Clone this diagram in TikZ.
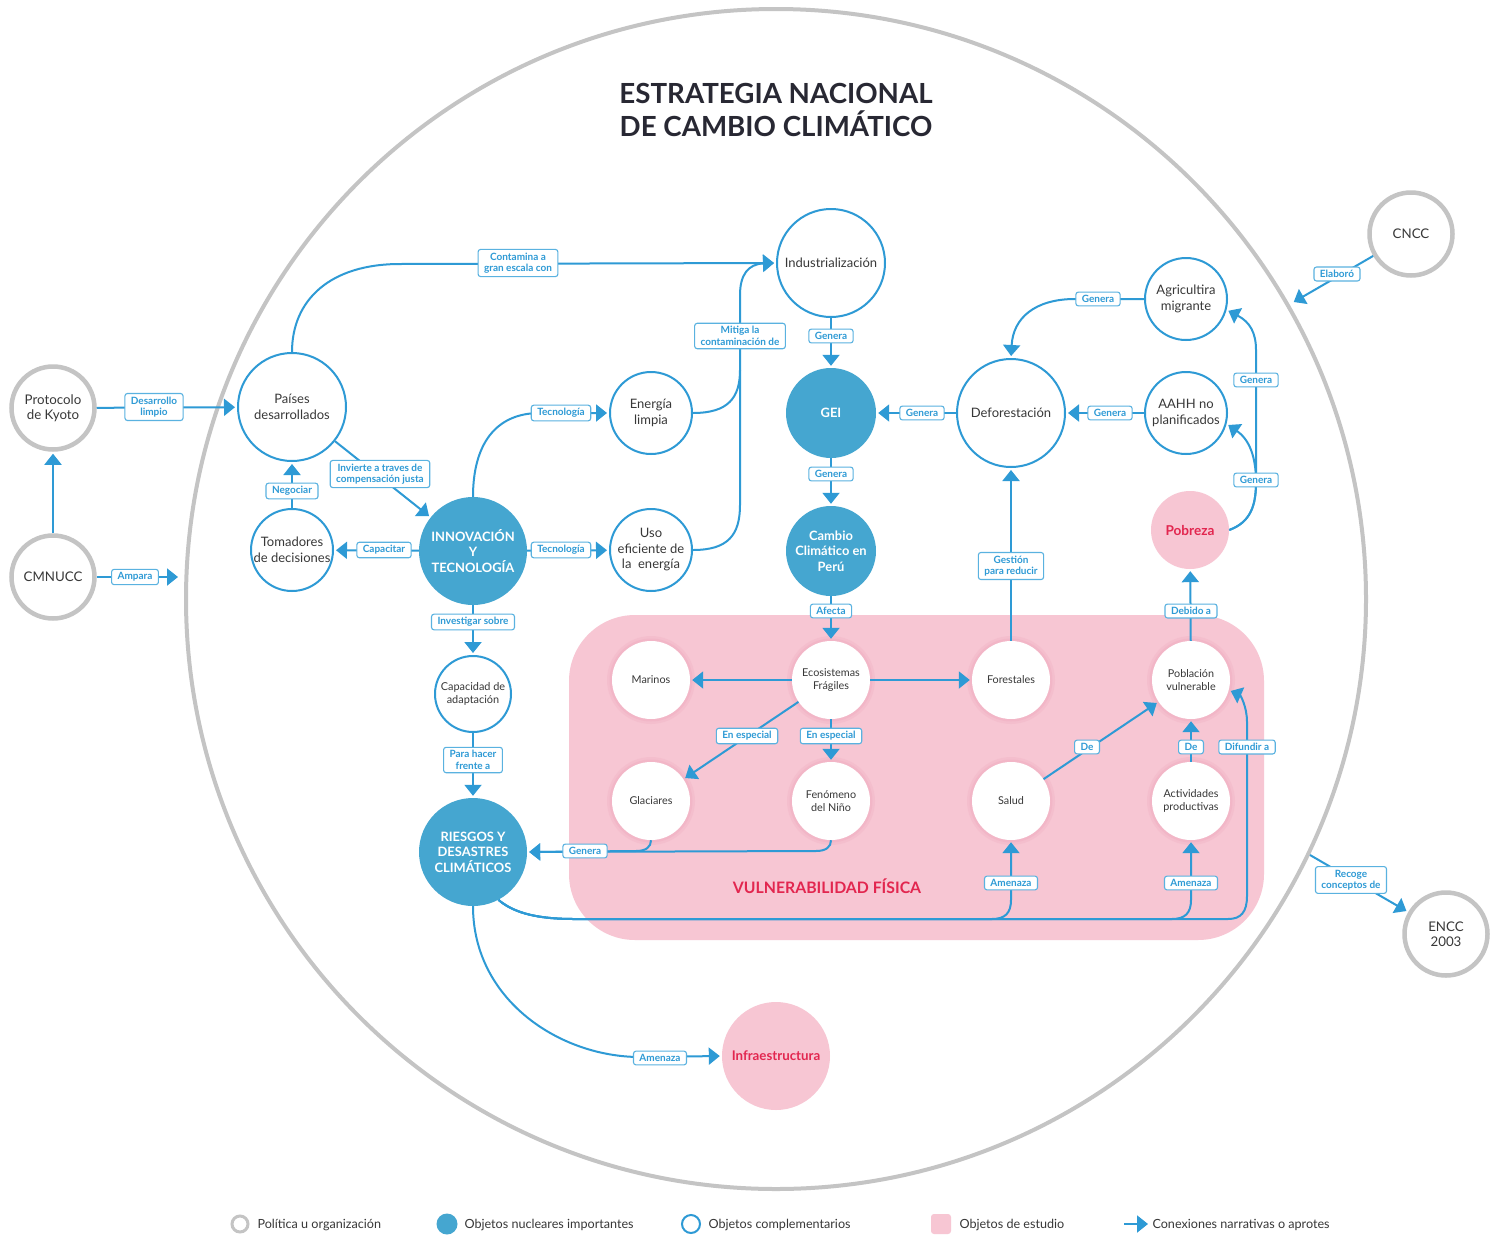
\documentclass[tikz,border=0pt]{standalone}
\usepackage{fontspec}
\setmainfont{Lato}
\usetikzlibrary{arrows.meta}
\definecolor{lineblue}{HTML}{2E9AD5}
\definecolor{tagline}{HTML}{5AB2E0}
\definecolor{coreblue}{HTML}{45A6D0}
\definecolor{ringgray}{HTML}{C4C4C4}
\definecolor{pinkfill}{HTML}{F7C6D3}
\definecolor{halopink}{HTML}{EFA9BD}
\definecolor{alert}{HTML}{E2264F}
\definecolor{titleink}{HTML}{282833}
\definecolor{ink}{HTML}{383838}
\begin{document}
\begin{tikzpicture}[x=1pt,y=-1pt,
  policy/.style={circle, draw=ringgray, line width=4.5pt, fill=white, minimum size=83pt,
    inner sep=0pt, align=center, text=ink, font=\fontsize{13.3}{15.5}\selectfont},
  core/.style={circle, fill=coreblue, text=white, inner sep=0pt, align=center,
    font=\bfseries\fontsize{12.9}{15.5}\selectfont},
  comp/.style={circle, draw=lineblue, line width=2pt, fill=white, inner sep=0pt,
    align=center, text=ink, font=\fontsize{13}{15.5}\selectfont},
  study/.style={circle, fill=pinkfill, text=alert, inner sep=0pt,
    font=\bfseries\fontsize{13.6}{15}\selectfont},
  vuln/.style={circle, fill=white, minimum size=78pt, inner sep=0pt, align=center,
    text=ink, font=\fontsize{10.8}{13}\selectfont},
  tag/.style={draw=tagline, line width=1.1pt, fill=white, rounded corners=2.5pt,
    text=lineblue, font=\bfseries\fontsize{10}{11.5}\selectfont,
    inner xsep=6pt, inner ysep=3.2pt, align=center},
  link/.style={draw=lineblue, line width=2pt, -{Triangle[length=11pt,width=17pt]}, shorten >=2pt},
  wire/.style={draw=lineblue, line width=2pt},
  legendtext/.style={anchor=west, text=ink, font=\fontsize{12.6}{14}\selectfont}
]
\useasboundingbox (0,0) rectangle (1502,1237);
\fill[white] (0,0) rectangle (1502,1237);

% outer boundary of the national strategy
\draw[ringgray, line width=4pt] (776,599) circle (590pt);

% study area: physical vulnerability
\fill[pinkfill, rounded corners=66pt] (569,615) rectangle (1264,940);
\node[text=alert, font=\bfseries\fontsize{15.8}{18}\selectfont] (vtitle) at (827,886) {VULNERABILIDAD FÍSICA};

% soft halos around the study circles
\foreach \cx/\cy in {651/680, 831/680, 1011/680, 1191/680, 651/801, 831/801, 1011/801, 1191/801}{
  \fill[halopink, opacity=0.25] (\cx,\cy) circle (44pt);
  \fill[halopink, opacity=0.35] (\cx,\cy) circle (41.5pt);
}

% title
\node[font=\bfseries\fontsize{27.7}{33}\selectfont, text=titleink, align=center] (title) at (776,110)
  {ESTRATEGIA NACIONAL\\DE CAMBIO CLIMÁTICO};

% policies and organisations
\node[policy] (kyoto) at (53,408) {Protocolo\\de Kyoto};
\node[policy] (cmnucc) at (53,577) {CMNUCC};
\node[policy] (cncc) at (1411,234) {CNCC};
\node[policy] (encc) at (1446,934) {ENCC\\2003};

% core objects
\node[core, minimum size=108pt] (inn) at (473,551) {INNOVACIÓN\\Y\\TECNOLOGÍA};
\node[core, minimum size=90pt] (gei) at (831,413) {GEI};
\node[core, minimum size=90pt] (cc) at (831,551) {Cambio\\Climático en\\Perú};
\node[core, minimum size=108pt] (ries) at (473,852) {RIESGOS Y\\DESASTRES\\CLIMÁTICOS};

% complementary objects
\node[comp, minimum size=108pt] (pd) at (292,407) {Países\\desarrollados};
\node[comp, minimum size=82pt] (tom) at (292,550) {Tomadores\\de decisiones};
\node[comp, minimum size=82pt] (el) at (651,413) {Energía\\limpia};
\node[comp, minimum size=82pt] (uso) at (651,550) {Uso\\eficiente de\\la\ \ energía};
\node[comp, minimum size=108pt] (ind) at (831,263) {Industrialización};
\node[comp, minimum size=108pt] (def) at (1011,413) {Deforestación};
\node[comp, minimum size=82pt] (agr) at (1186,299) {Agricultira\\migrante};
\node[comp, minimum size=82pt] (aahh) at (1186,413) {AAHH no\\planificados};
\node[comp, minimum size=76pt, font=\fontsize{10.9}{13.5}\selectfont] (cap) at (473,694) {Capacidad de\\adaptación};

% study objects
\node[study, minimum size=78pt] (pob) at (1190,530) {Pobreza};
\node[study, minimum size=108pt, font=\bfseries\fontsize{13.3}{15}\selectfont] (infra) at (776,1056) {Infraestructura};
\node[vuln] (mar) at (651,680) {Marinos};
\node[vuln] (eco) at (831,680) {Ecosistemas\\Frágiles};
\node[vuln] (for) at (1011,680) {Forestales};
\node[vuln] (pv) at (1191,680) {Población\\vulnerable};
\node[vuln] (gla) at (651,801) {Glaciares};
\node[vuln] (nino) at (831,801) {Fenómeno\\del Niño};
\node[vuln] (sal) at (1011,801) {Salud};
\node[vuln] (act) at (1191,801) {Actividades\\productivas};

% free ends of connectors leaving or entering the boundary
\coordinate (amparaend) at (180,577);
\coordinate (cnccend) at (1292,303);
\coordinate (enccstart) at (1310,855);

% connectors
\draw[link] (kyoto) -- (pd);
\draw[link] (cmnucc) -- (kyoto);
\draw[link] (cmnucc) -- (amparaend);
\draw[link] (pd.north) .. controls (292,300) and (330,264) .. (400,264) -- (ind.west);
\draw[link] (tom) -- (pd);
\draw[link] (pd) -- (inn);
\draw[link] (inn) -- (tom);
\draw[link] (inn.north) .. controls (473,445) and (495,413) .. (540,413) -- (el);
\draw[link] (inn) -- (uso);
\draw[link] (el.east) .. controls (728,413) and (740,398) .. (740,370) -- (740,295)
  .. controls (740,275) and (748,264) .. (ind.west);
\draw[wire] (uso.east) .. controls (728,550) and (740,535) .. (740,505) -- (740,370);
\draw[link] (inn) -- (cap);
\draw[link] (cap) -- (ries);
\draw[link] (ind) -- (gei);
\draw[link] (gei) -- (cc);
\draw[link] (cc) -- (eco);
\draw[link] (def) -- (gei);
\draw[link] (aahh) -- (def);
\draw[link] (agr.west) -- (1075,299) .. controls (1035,299) and (1013,318) .. (def.north);
\draw[link] (pob.east) .. controls (1251,522) and (1256,505) .. (1256,482)
  .. controls (1256,458) and (1250,440) .. (aahh.-15);
\draw[link] (pob.east) .. controls (1251,522) and (1256,505) .. (1256,482) -- (1256,350)
  .. controls (1256,333) and (1250,322) .. (agr.-15);
\draw[link] (pv) -- (pob);
\draw[link] (for) -- (def);
\draw[link] (eco) -- (mar);
\draw[link] (eco) -- (for);
\draw[link] (eco) -- (gla);
\draw[link] (eco) -- (nino);
\draw[link] (sal) -- (pv);
\draw[link] (act) -- (pv);
\draw[link] (gla.south) .. controls (651,847) and (646,851) .. (636,851) -- (ries.east);
\draw[link] (nino.south) .. controls (831,847) and (826,851) .. (816,851) -- (ries.east);
\draw[link] (ries.-62) .. controls (515,914) and (540,919) .. (575,919) -- (992,919)
  .. controls (1005,919) and (1011,913) .. (1011,900) -- (sal.south);
\draw[link] (ries.-62) .. controls (515,914) and (540,919) .. (575,919) -- (1172,919)
  .. controls (1185,919) and (1191,913) .. (1191,900) -- (act.south);
\draw[link] (ries.-62) .. controls (515,914) and (540,919) .. (575,919) -- (1228,919)
  .. controls (1241,919) and (1247,912) .. (1247,896) -- (1247,722)
  .. controls (1247,706) and (1240,695) .. (pv.-15);
\draw[link] (ries.south) .. controls (473,1000) and (560,1057) .. (640,1057) -- (infra.west);
\draw[link] (cncc) -- (cnccend);
\draw[link] (enccstart) -- (encc);

% connector labels
\node[tag] (t1) at (154,407) {Desarrollo\\limpio};
\node[tag] (t2) at (135,577) {Ampara};
\node[tag] (t3) at (518,263) {Contamina a\\gran escala con};
\node[tag] (t4) at (292,491) {Negociar};
\node[tag] (t5) at (380,474) {Invierte a traves de\\compensación justa};
\node[tag] (t6) at (384,550) {Capacitar};
\node[tag] (t7) at (561,413) {Tecnología};
\node[tag] (t8) at (561,550) {Tecnología};
\node[tag] (t9) at (740,336) {Mitiga la\\contaminación de};
\node[tag] (t10) at (473,622) {Investigar sobre};
\node[tag] (t11) at (473,760) {Para hacer\\frente a};
\node[tag] (t12) at (831,336) {Genera};
\node[tag] (t13) at (831,474) {Genera};
\node[tag] (t14) at (831,611) {Afecta};
\node[tag] (t15) at (922,413) {Genera};
\node[tag] (t16) at (1110,413) {Genera};
\node[tag] (t17) at (1098,299) {Genera};
\node[tag] (t18) at (1256,380) {Genera};
\node[tag] (t19) at (1256,480) {Genera};
\node[tag] (t20) at (1191,611) {Debido a};
\node[tag] (t21) at (1011,566) {Gestión\\para reducir};
\node[tag] (t22) at (747,736) {En especial};
\node[tag] (t23) at (831,736) {En especial};
\node[tag] (t24) at (1087,747) {De};
\node[tag] (t25) at (1191,747) {De};
\node[tag] (t26) at (1247,747) {Difundir a};
\node[tag] (t27) at (585,851) {Genera};
\node[tag] (t28) at (1011,883) {Amenaza};
\node[tag] (t29) at (1191,883) {Amenaza};
\node[tag] (t30) at (660,1058) {Amenaza};
\node[tag] (t31) at (1337,274) {Elaboró};
\node[tag] (t32) at (1351,880) {Recoge\\conceptos de};

% legend
\node[circle, draw=ringgray, line width=3pt, minimum size=16pt, inner sep=0pt] (lg1) at (240,1224) {};
\node[legendtext] (lt1) at (254,1225) {Política u organización};
\node[circle, fill=coreblue, minimum size=21pt, inner sep=0pt] (lg2) at (447,1224) {};
\node[legendtext] (lt2) at (461,1225) {Objetos nucleares importantes};
\node[circle, draw=lineblue, line width=2pt, minimum size=18pt, inner sep=0pt] (lg3) at (691,1224) {};
\node[legendtext] (lt3) at (705,1225) {Objetos complementarios};
\node[fill=pinkfill, rounded corners=3pt, minimum size=20pt, inner sep=0pt] (lg4) at (941,1224) {};
\node[legendtext] (lt4) at (956,1225) {Objetos de estudio};
\coordinate (la) at (1124,1224);
\coordinate (lb) at (1148,1224);
\draw[link, shorten >=0pt] (la) -- (lb);
\node[legendtext] (lt5) at (1149,1225) {Conexiones narrativas o aprotes};
\end{tikzpicture}
\end{document}
